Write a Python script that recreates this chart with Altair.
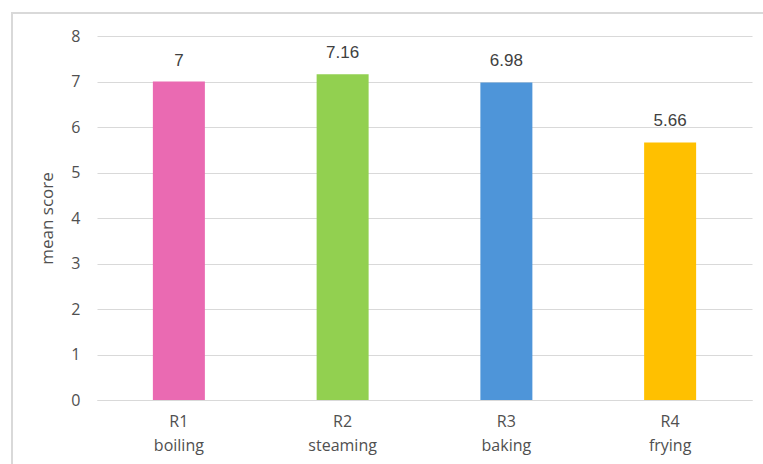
import altair as alt
import pandas as pd

codes = ["R1", "R2", "R3", "R4"]
methods = ["boiling", "steaming", "baking", "frying"]
scores = [7, 7.16, 6.98, 5.66]
labels = ["7", "7.16", "6.98", "5.66"]
colors = ["#EA6AB2", "#92D050", "#4E95D9", "#FFC000"]

cats = [f"{c} {m}" for c, m in zip(codes, methods)]
df = pd.DataFrame({"cat": cats, "score": scores, "label": labels, "color": colors})

W, H = 655, 364

xscale = alt.Scale(domain=cats, paddingInner=0.3, paddingOuter=0.15)
yscale = alt.Scale(domain=[0, 8])

xaxis = alt.Axis(labelAngle=0, labelExpr="split(datum.label, ' ')",
                 labelFont="Open Sans", labelFontSize=16, labelColor="#505050",
                 labelLineHeight=24, labelPadding=13, ticks=False,
                 domainColor="#D9D9D9", grid=False)
yaxis = alt.Axis(values=[0, 1, 2, 3, 4, 5, 6, 7, 8], domain=False, ticks=False,
                 gridColor="#D9D9D9", labelFont="Open Sans", labelFontSize=16,
                 labelColor="#505050", labelPadding=17,
                 titleFont="Open Sans", titleFontSize=17, titleFontWeight="normal",
                 titleColor="#505050", titleX=-50, titleY=H / 2,
                 titleAngle=-90, titleAlign="center", titleBaseline="middle")

x = alt.X("cat:N", sort=cats, title=None, scale=xscale, axis=xaxis)
y = alt.Y("score:Q", title="mean score", scale=yscale, axis=yaxis)

bars = alt.Chart(df).mark_bar(size=52).encode(
    x=x, y=y, color=alt.Color("color:N", scale=None))

text = alt.Chart(df).mark_text(baseline="bottom", dy=-12, font="Liberation Sans",
                               fontSize=17, color="#404040").encode(
    x=x, y=y, text="label:N")

border = alt.Chart(df).mark_rect(fill=None, stroke="#D9D9D9", strokeWidth=1.5,
                                  clip=False).encode(
    x=alt.value(-85), x2=alt.value(800), y=alt.value(-23), y2=alt.value(600))

chart = alt.layer(border, bars, text).properties(
    width=W, height=H, background="white",
    autosize=alt.AutoSizeParams(type="none"),
    padding={"left": 97, "top": 36, "right": 11, "bottom": 64},
).configure_view(stroke=None).configure_axisX(grid=False)

chart.save("out.html", embed_options={"renderer": "svg", "actions": False})
